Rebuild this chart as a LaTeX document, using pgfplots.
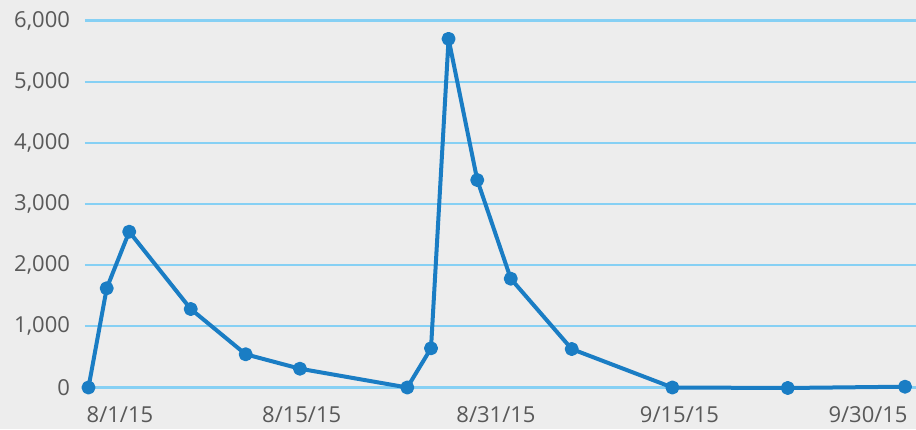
\documentclass[border=0pt]{standalone}
\usepackage{pgfplots}
\pgfplotsset{compat=1.18}
\usepackage{fontspec}
\setmainfont{Open Sans}
\definecolor{bgc}{HTML}{EDEDED}
\definecolor{gridc}{HTML}{86D0F4}
\definecolor{linec}{HTML}{1A7DC4}
\definecolor{textc}{HTML}{595959}
\begin{document}
\begin{tikzpicture}
\path[use as bounding box, fill=bgc] (0,0) rectangle (458pt,214.5pt);
\begin{axis}[
  at={(42.5pt,20.75pt)}, anchor=south west,
  scale only axis, width=415.5pt, height=183.5pt,
  xmin=-0.26, xmax=61.75, ymin=0, ymax=6000,
  clip=false,
  axis line style={draw=none},
  tick style={draw=none},
  ytick={0,1000,2000,3000,4000,5000,6000},
  xtick={2.35,15.91,30.41,44.10,58.17},
  xticklabels={8/1/15,8/15/15,8/31/15,9/15/15,9/30/15},
  ymajorgrids,
  major grid style={gridc, line width=1.1pt},
  ticklabel style={font=\fontsize{11}{13}\selectfont, text=textc},
  /pgf/number format/assume math mode=true,
  /pgf/number format/1000 sep={,},
  scaled y ticks=false,
  yticklabel style={xshift=-4pt},
  xticklabel style={yshift=-6pt},
]
\addplot[linec, line width=2pt, line join=round, mark=*, mark size=2.5pt, mark options={fill=linec, draw=none}] coordinates {
(0,0) (1.36,1622) (3.04,2547) (7.63,1283) (11.73,543) (15.78,307)
(23.79,0) (25.56,641) (26.87,5700) (29.01,3392) (31.51,1779)
(36.06,629) (43.57,0) (52.18,-8) (60.93,13)
};
\end{axis}
\end{tikzpicture}
\end{document}
